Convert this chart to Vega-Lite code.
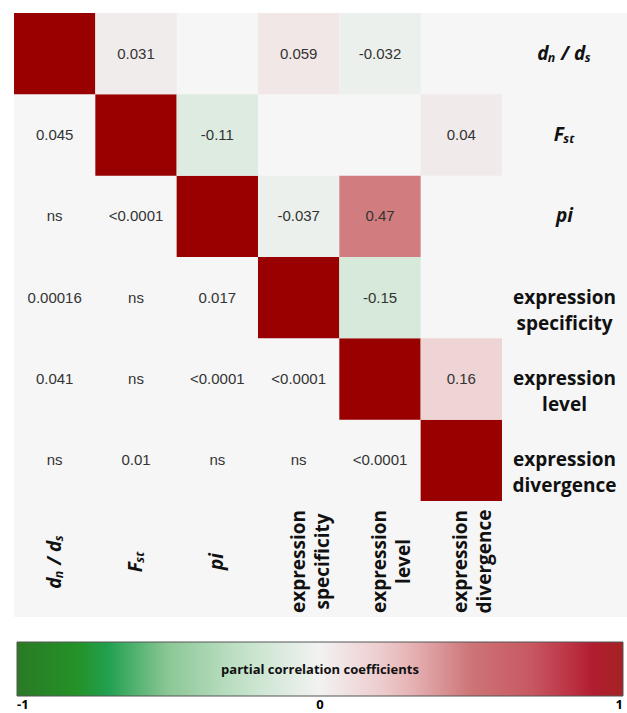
{
  "$schema": "https://vega.github.io/schema/vega-lite/v6.json",
  "width": 613,
  "height": 604,
  "autosize": {"type": "none"},
  "padding": {"left": 14, "top": 13, "right": 0, "bottom": 96},
  "background": "#ffffff",
  "view": {"fill": "#f6f6f6", "stroke": null},
  "data": {
    "values": [
      {"row": "dNdS", "col": "dNdS", "r": 1, "txt": ""},
      {"row": "FST", "col": "FST", "r": 1, "txt": ""},
      {"row": "pi", "col": "pi", "r": 1, "txt": ""},
      {"row": "expression specificity", "col": "expression specificity", "r": 1, "txt": ""},
      {"row": "expression level", "col": "expression level", "r": 1, "txt": ""},
      {"row": "expression divergence", "col": "expression divergence", "r": 1, "txt": ""},
      {"row": "dNdS", "col": "FST", "r": 0.031, "txt": "0.031"},
      {"row": "dNdS", "col": "expression specificity", "r": 0.059, "txt": "0.059"},
      {"row": "dNdS", "col": "expression level", "r": -0.032, "txt": "-0.032"},
      {"row": "FST", "col": "pi", "r": -0.11, "txt": "-0.11"},
      {"row": "FST", "col": "expression divergence", "r": 0.04, "txt": "0.04"},
      {"row": "pi", "col": "expression specificity", "r": -0.037, "txt": "-0.037"},
      {"row": "pi", "col": "expression level", "r": 0.47, "txt": "0.47"},
      {"row": "expression specificity", "col": "expression level", "r": -0.15, "txt": "-0.15"},
      {"row": "expression level", "col": "expression divergence", "r": 0.16, "txt": "0.16"},
      {"row": "FST", "col": "dNdS", "r": null, "txt": "0.045"},
      {"row": "pi", "col": "dNdS", "r": null, "txt": "ns"},
      {"row": "pi", "col": "FST", "r": null, "txt": "<0.0001"},
      {"row": "expression specificity", "col": "dNdS", "r": null, "txt": "0.00016"},
      {"row": "expression specificity", "col": "FST", "r": null, "txt": "ns"},
      {"row": "expression specificity", "col": "pi", "r": null, "txt": "0.017"},
      {"row": "expression level", "col": "dNdS", "r": null, "txt": "0.041"},
      {"row": "expression level", "col": "FST", "r": null, "txt": "ns"},
      {"row": "expression level", "col": "pi", "r": null, "txt": "<0.0001"},
      {"row": "expression level", "col": "expression specificity", "r": null, "txt": "<0.0001"},
      {"row": "expression divergence", "col": "dNdS", "r": null, "txt": "ns"},
      {"row": "expression divergence", "col": "FST", "r": null, "txt": "0.01"},
      {"row": "expression divergence", "col": "pi", "r": null, "txt": "ns"},
      {"row": "expression divergence", "col": "expression specificity", "r": null, "txt": "ns"},
      {"row": "expression divergence", "col": "expression level", "r": null, "txt": "<0.0001"}
    ]
  },
  "encoding": {
    "x": {
      "field": "col",
      "type": "nominal",
      "scale": {
        "domain": ["dNdS", "FST", "pi", "expression specificity", "expression level", "expression divergence"],
        "paddingInner": 0,
        "paddingOuter": 0.7686,
        "align": 0
      },
      "axis": {
        "orient": "bottom",
        "offset": -116,
        "domain": false,
        "ticks": false,
        "tickSize": 0,
        "grid": false,
        "title": null,
        "labelAngle": 270,
        "labelAlign": "center",
        "labelBaseline": "middle",
        "labelPadding": 60,
        "labelFont": "Open Sans",
        "labelFontSize": 19,
        "labelFontWeight": "bold",
        "labelColor": "#111111",
        "labelLineHeight": 24,
        "labelLimit": 0,
        "labelOverlap": false,
        "labelBound": false,
        "labelFlush": false,
        "labelExpr": "datum.value == 'dNdS' ? 'dₙ / dₛ' : datum.value == 'FST' ? 'Fₛₜ' : datum.value == 'pi' ? 'pi' : split(datum.value, ' ')",
        "labelFontStyle": {"condition": {"test": "indexof(datum.value, 'expression') < 0", "value": "italic"}, "value": "normal"}
      }
    },
    "y": {
      "field": "row",
      "type": "nominal",
      "scale": {
        "domain": ["dNdS", "FST", "pi", "expression specificity", "expression level", "expression divergence"],
        "paddingInner": 0,
        "paddingOuter": 0.7133,
        "align": 0
      },
      "axis": {
        "orient": "right",
        "offset": -125,
        "domain": false,
        "ticks": false,
        "tickSize": 0,
        "grid": false,
        "title": null,
        "labelAngle": 0,
        "labelAlign": "center",
        "labelBaseline": "middle",
        "labelPadding": 62,
        "labelFont": "Open Sans",
        "labelFontSize": 19,
        "labelFontWeight": "bold",
        "labelColor": "#111111",
        "labelLineHeight": 26,
        "labelLimit": 0,
        "labelOverlap": false,
        "labelBound": false,
        "labelFlush": false,
        "labelExpr": "datum.value == 'dNdS' ? 'dₙ / dₛ' : datum.value == 'FST' ? 'Fₛₜ' : datum.value == 'pi' ? 'pi' : split(datum.value, ' ')",
        "labelFontStyle": {"condition": {"test": "indexof(datum.value, 'expression') < 0", "value": "italic"}, "value": "normal"}
      }
    }
  },
  "layer": [
    {
      "transform": [{"filter": "isValid(datum.r)"}],
      "mark": {"type": "rect"},
      "encoding": {
        "color": {
          "condition": {"test": "datum.row === datum.col", "value": "#990000"},
          "field": "r",
          "type": "quantitative",
          "scale": {
            "domain": [-1, -0.8, -0.7, -0.5, -0.25, 0, 0.25, 0.5, 0.75, 0.87, 1],
            "range": ["#2a7a25", "#249227", "#21a050", "#8cc796", "#c4e3ca", "#f2f2f2", "#ecc3c5", "#cd7476", "#c5505c", "#b61c34", "#a52222"],
            "interpolate": "rgb"
          },
          "legend": {
            "orient": "none",
            "direction": "horizontal",
            "legendX": 3,
            "legendY": 629,
            "gradientLength": 606,
            "gradientThickness": 54,
            "gradientStrokeColor": "#555555",
            "gradientStrokeWidth": 1,
            "values": [-1, 0, 1],
            "labelExpr": "datum.value < 0 ? '-1' : datum.value > 0 ? '1' : '0'",
            "labelAlign": "center",
            "labelFont": "Open Sans",
            "labelFontWeight": "bold",
            "labelFontSize": 13,
            "labelColor": "#000000",
            "labelOffset": 3,
            "title": "partial correlation coefficients",
            "titleOrient": "bottom",
            "titleAnchor": "middle",
            "titlePadding": -48,
            "titleLimit": 0,
            "titleFont": "Open Sans",
            "titleFontWeight": "bold",
            "titleFontSize": 13,
            "titleColor": "#111111"
          }
        }
      }
    },
    {
      "mark": {"type": "text", "font": "Liberation Sans", "fontSize": 15, "color": "#333333"},
      "encoding": {"text": {"field": "txt", "type": "nominal"}}
    }
  ]
}
